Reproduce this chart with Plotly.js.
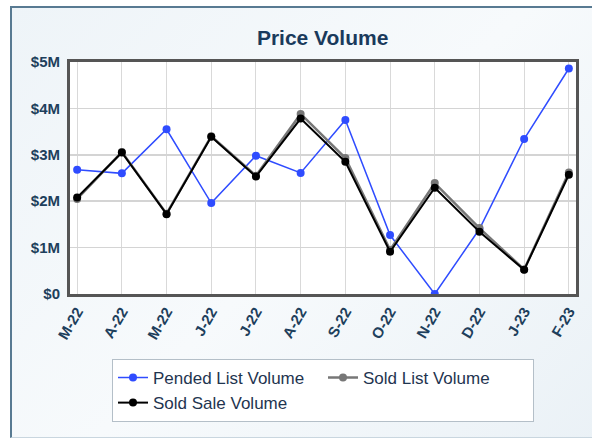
<!DOCTYPE html>
<html><head><meta charset="utf-8">
<script src="https://cdn.plot.ly/plotly-3.0.1.min.js"></script>
<style>
html,body{margin:0;padding:0;width:592px;height:439px;overflow:hidden;background:#ffffff;}
#frame{position:absolute;left:10px;top:6px;width:600px;height:429px;border-left:2px solid #587a92;border-top:2px solid #587a92;border-bottom:1px solid #c9d6df;background:linear-gradient(135deg,#eef4f8 0%,#f7fafc 50%,#eaf1f6 100%);}
#chart{position:absolute;left:0;top:0;width:592px;height:439px;}
</style></head>
<body>
<div id="frame"></div>
<div id="chart"></div>
<script>
const months = ["M-22","A-22","M-22","J-22","J-22","A-22","S-22","O-22","N-22","D-22","J-23","F-23"];
const pendedList = [2.68e6,2.60e6,3.55e6,1.96e6,2.98e6,2.61e6,3.75e6,1.27e6,0.0,1.40e6,3.34e6,4.86e6];
const soldList   = [2.05e6,3.06e6,1.73e6,3.40e6,2.55e6,3.88e6,2.93e6,0.95e6,2.39e6,1.42e6,0.53e6,2.62e6];
const soldSale   = [2.08e6,3.05e6,1.72e6,3.39e6,2.53e6,3.78e6,2.85e6,0.91e6,2.29e6,1.34e6,0.52e6,2.57e6];
const yTickVals = [0,1e6,2e6,3e6,4e6,5e6];
const yTickText = ["$0","$1M","$2M","$3M","$4M","$5M"];
const xIdx = months.map((m,i)=>i);

const traces = [
  {x:xIdx,y:pendedList,name:"Pended List Volume",mode:"lines+markers",line:{color:"#2f4cff",width:1.5},marker:{color:"#2f4cff",size:8}},
  {x:xIdx,y:soldList,name:"Sold List Volume",mode:"lines+markers",line:{color:"#777777",width:2.5},marker:{color:"#777777",size:8}},
  {x:xIdx,y:soldSale,name:"Sold Sale Volume",mode:"lines+markers",line:{color:"#000000",width:2},marker:{color:"#000000",size:8}}
];
const tickFont = {family:"Liberation Sans, Arial, sans-serif",size:15,color:"#1e3f5c",weight:"bold"};
const layout = {
  width:592,height:439,
  paper_bgcolor:"rgba(0,0,0,0)",plot_bgcolor:"#ffffff",
  margin:{l:70,r:16,t:62,b:145},
  title:{text:"<b>Price Volume</b>",x:0.545,xanchor:"center",y:0.915,yanchor:"middle",font:{family:"Liberation Sans, Arial, sans-serif",size:21,color:"#1a3a5c"}},
  xaxis:{range:[-0.16,11.16],tickvals:xIdx,ticktext:months,tickangle:-60,tickfont:tickFont,showgrid:true,gridcolor:"#d9d9d9",gridwidth:1,zeroline:false,showline:true,mirror:true,linecolor:"#555555",linewidth:3,ticks:"",fixedrange:true},
  yaxis:{range:[0,5e6],tickvals:yTickVals,ticktext:yTickText,tickfont:tickFont,ticklabelstandoff:4,showgrid:true,gridcolor:"#d4d4d4",gridwidth:1.5,zeroline:false,showline:true,mirror:true,linecolor:"#555555",linewidth:3,ticks:"",fixedrange:true},
  showlegend:true,
  legend:{orientation:"h",x:0.5,xanchor:"center",y:-0.28,yanchor:"top",bgcolor:"#ffffff",bordercolor:"#b4bfc8",borderwidth:1,entrywidth:165,font:{family:"Liberation Sans, Arial, sans-serif",size:17,color:"#1f3550"},tracegroupgap:0,itemwidth:30}
};
Plotly.newPlot("chart",traces,layout,{displayModeBar:false,staticPlot:true});
</script>
</body></html>
